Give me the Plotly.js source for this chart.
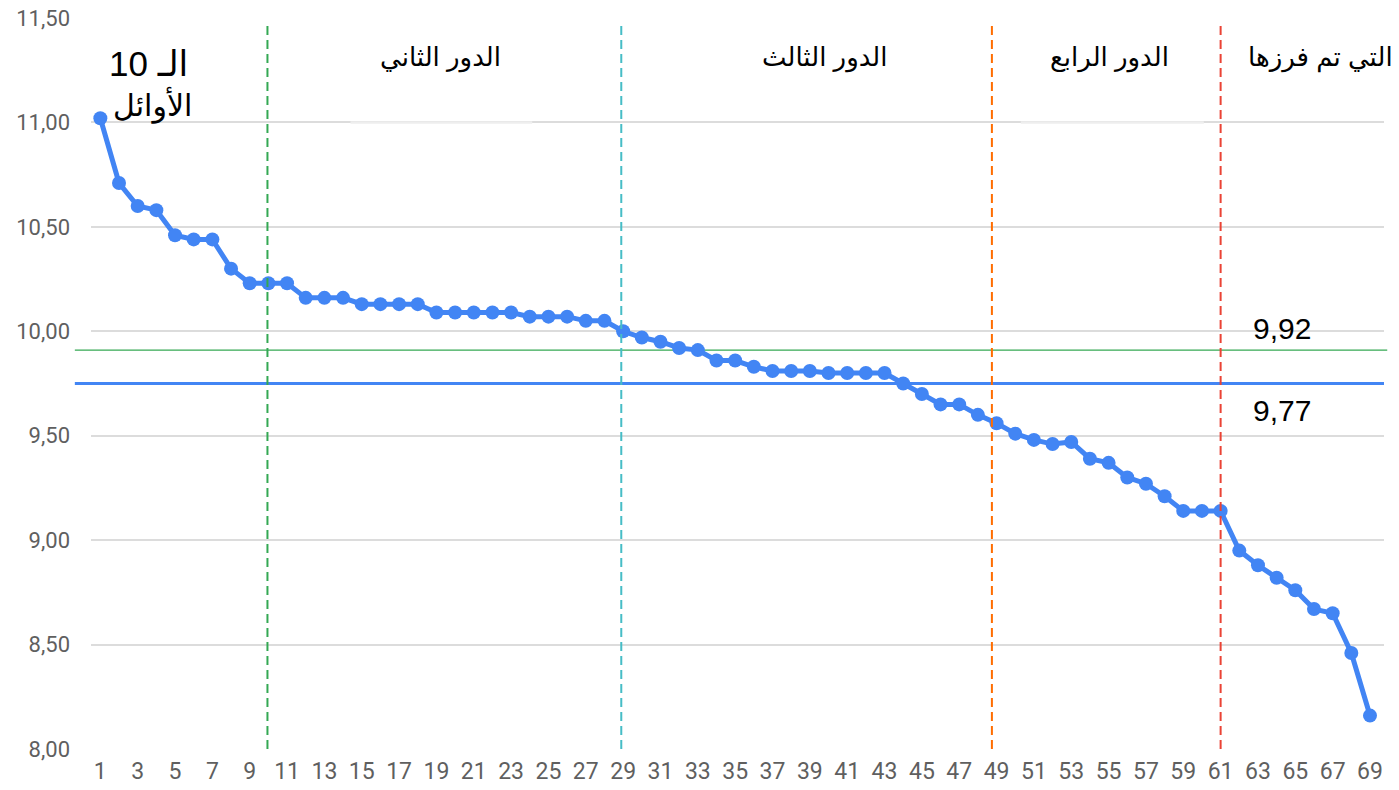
<!DOCTYPE html>
<html>
<head>
<meta charset="utf-8">
<script src="https://cdn.plot.ly/plotly-3.0.1.min.js"></script>
<style>html,body{margin:0;padding:0;background:#fff;}#chart{width:1399px;height:790px;}</style>
</head>
<body>
<div id="chart"></div>
<script>
// ranks 1..69
const ranks = [];
for (let i = 1; i <= 69; i++) ranks.push(i);

// scores
const scores = [
  11.02, 10.71, 10.60, 10.58, 10.46, 10.44, 10.44, 10.30, 10.23, 10.23,
  10.23, 10.16, 10.16, 10.16, 10.13, 10.13, 10.13, 10.13, 10.09, 10.09,
  10.09, 10.09, 10.09, 10.07, 10.07, 10.07, 10.05, 10.05, 10.00, 9.97,
  9.95, 9.92, 9.91, 9.86, 9.86, 9.83, 9.81, 9.81, 9.81, 9.80,
  9.80, 9.80, 9.80, 9.75, 9.70, 9.65, 9.65, 9.60, 9.56, 9.51,
  9.48, 9.46, 9.47, 9.39, 9.37, 9.30, 9.27, 9.21, 9.14, 9.14,
  9.14, 8.95, 8.88, 8.82, 8.76, 8.67, 8.65, 8.46, 8.16
];

// y axis ticks
const yTickVals = [8.0, 8.5, 9.0, 9.5, 10.0, 10.5, 11.0, 11.5];
const yTickText = ["8,00", "8,50", "9,00", "9,50", "10,00", "10,50", "11,00", "11,50"];

// x axis ticks (odd ranks)
const xTickVals = ranks.filter(r => r % 2 === 1);
const xTickText = xTickVals.map(String);

// section boundaries (dashed vertical lines) and their colours
const sectionBreaks = [9.95, 28.9, 48.75, 61];
const sectionColors = ["#34a853", "#46bdc6", "#ff6d01", "#ea4335"];

// section labels (horizontal position as fraction of plot width)
const sectionLabels = ["الدور الثاني", "الدور الثالث", "الدور الرابع", "التي تم فرزها"];
const sectionLabelPos = [0.270, 0.568, 0.788, 1.0085];

// threshold lines (as drawn) and their labels
const thresholdLevels = [9.91, 9.75];
const thresholdLabels = ["9,92", "9,77"];
const thresholdColors = ["#34a853", "#4285f4"];
const thresholdWidths = [1.3, 3];

const FONT = "Liberation Sans, Arial, DejaVu Sans, sans-serif";

const shapes = [];
sectionBreaks.forEach((xb, i) => {
  shapes.push({type: "line", xref: "x", yref: "y", x0: xb, x1: xb, y0: 8.0, y1: 11.475,
    line: {color: sectionColors[i], width: 2, dash: "9px,5px"}, layer: "above"});
});
thresholdLevels.forEach((lv, i) => {
  shapes.push({type: "line", xref: "paper", yref: "y", x0: -0.0125, x1: i === 0 ? 1.0025 : 1.0, y0: lv, y1: lv,
    line: {color: thresholdColors[i], width: thresholdWidths[i]}, layer: "below"});
});
// light text-box edges over the 11,00 gridline
shapes.push({type: "line", xref: "x", yref: "y", x0: 14.4, x1: 24.13, y0: 11.0, y1: 11.0,
  line: {color: "#eeeeee", width: 2.5}, layer: "above"});
shapes.push({type: "line", xref: "x", yref: "y", x0: 50.3, x1: 60.1, y0: 11.0, y1: 11.0,
  line: {color: "#eeeeee", width: 2.5}, layer: "above"});

const annotations = [];
annotations.push({text: "الـ 10", x: 0.0445, y: 11.28, xref: "paper", yref: "y", showarrow: false,
  xanchor: "center", yanchor: "middle", font: {family: FONT, size: 35, color: "#000"}});
annotations.push({text: "الأوائل", x: 0.0475, y: 11.085, xref: "paper", yref: "y", showarrow: false,
  xanchor: "center", yanchor: "middle", font: {family: FONT, size: 30, color: "#000"}});
sectionLabels.forEach((t, i) => {
  annotations.push({text: t, x: sectionLabelPos[i], y: 11.31, xref: "paper", yref: "y", showarrow: false,
    xanchor: i === 3 ? "right" : "center", yanchor: "middle", font: {family: FONT, size: 26, color: "#000"}});
});
annotations.push({text: thresholdLabels[0], x: 0.921, y: 10.015, xref: "paper", yref: "y", showarrow: false,
  xanchor: "center", yanchor: "middle", font: {family: FONT, size: 30, color: "#000"}});
annotations.push({text: thresholdLabels[1], x: 0.921, y: 9.622, xref: "paper", yref: "y", showarrow: false,
  xanchor: "center", yanchor: "middle", font: {family: FONT, size: 30, color: "#000"}});

const trace = {
  x: ranks, y: scores, type: "scatter", mode: "lines+markers",
  line: {color: "#4285f4", width: 5},
  marker: {color: "#4285f4", size: 14},
  cliponaxis: false, hoverinfo: "none"
};

const layout = {
  width: 1399, height: 790,
  margin: {l: 91, r: 15, t: 18, b: 41, pad: 0},
  paper_bgcolor: "#ffffff", plot_bgcolor: "#ffffff",
  showlegend: false,
  xaxis: {
    range: [0.5, 69.75], tickmode: "array", tickvals: xTickVals, ticktext: xTickText,
    showgrid: false, zeroline: false, showline: false, ticks: "",
    tickfont: {family: "Roboto, Liberation Sans, sans-serif", size: 23, color: "#5f5f5f"},
    ticklabelstandoff: 6
  },
  yaxis: {
    range: [8.0, 11.5], tickmode: "array", tickvals: yTickVals, ticktext: yTickText,
    showgrid: true, gridcolor: "#dcdcdc", gridwidth: 2, zeroline: false, showline: false, ticks: "",
    tickfont: {family: "Roboto, Liberation Sans, sans-serif", size: 22, color: "#5f5f5f"},
    ticklabelstandoff: 20
  },
  shapes: shapes,
  annotations: annotations
};

Plotly.newPlot("chart", [trace], layout, {staticPlot: true, displayModeBar: false});
</script>
</body>
</html>
